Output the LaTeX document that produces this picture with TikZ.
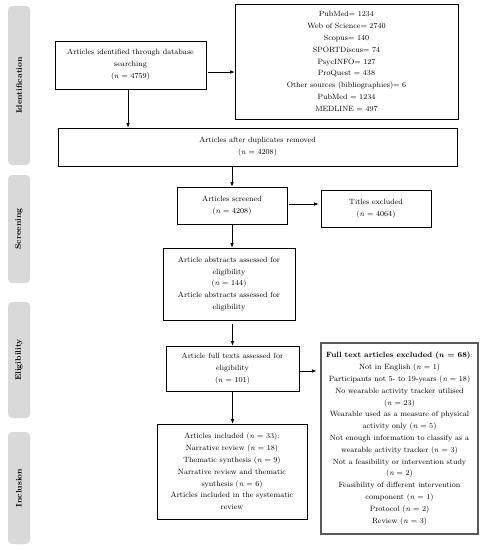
\documentclass[tikz,border=0pt]{standalone}
\usetikzlibrary{arrows.meta,calc}
\definecolor{barfill}{RGB}{217,217,217}
\definecolor{exclline}{RGB}{90,90,90}
\begin{document}
\begin{tikzpicture}[x=1pt,y=-1pt,
  every node/.style={font=\fontsize{7.6}{11.8}\selectfont},
  box/.style={draw, line width=0.6pt, align=center, inner sep=0pt, minimum width=#1},
  bar/.style={fill=barfill, rounded corners=4pt, inner sep=0pt, rotate=90,
    font=\fontsize{8}{10}\selectfont\bfseries, minimum height=22pt, minimum width=#1},
  arr/.style={-{Latex[length=4.5pt,width=3.5pt]}, line width=0.6pt}]
\useasboundingbox (0,0) rectangle (484,550);
% side bars
\node[bar=159] (bid) at (19,85.5) {Identification};
\node[bar=108] (bsc) at (19,229) {Screening};
\node[bar=116] (bel) at (19,360) {Eligibility};
\node[bar=112] (bin) at (19,488) {Inclusion};
% boxes
\node[box=151, minimum height=48] (ident) at (130.5,65) {Articles identified through database\\searching\\(\textit{n} = 4759)};
\node[box=223, minimum height=115] (src) at (346.5,61.5) {PubMed= 1234\\Web of Science= 2740\\Scopus= 140\\SPORTDiscus= 74\\PsycINFO= 127\\ProQuest = 438\\Other sources (bibliographies)= 6\\PubMed = 1234\\MEDLINE = 497};
\node[box=399, minimum height=38] (dup) at (257.5,147) {Articles after duplicates removed\\(\textit{n} = 4208)};
\node[box=110, minimum height=37] (scr) at (232,205.5) {Articles screened\\(\textit{n} = 4208)};
\node[box=110, minimum height=37] (title) at (376,208.5) {Titles excluded\\(\textit{n} = 4064)};
\node[box=132, minimum height=72] (abs) at (229,284) {Article abstracts assessed for\\eligibility\\(\textit{n} = 144)\\Article abstracts assessed for\\eligibility};
\node[box=133, minimum height=45] (full) at (232.5,368.5) {Article full texts assessed for\\eligibility\\(\textit{n} = 101)};
\node[box=157, minimum height=191, draw=exclline, line width=1.1pt] (excl) at (399.5,438.5) {\textbf{Full text articles excluded (\textit{n} = 68)}:\\Not in English (\textit{n} = 1)\\Participants not 5- to 19-years (\textit{n} = 18)\\No wearable activity tracker utilised\\(\textit{n} = 23)\\Wearable used as a measure of physical\\activity only (\textit{n} = 5)\\Not enough information to classify as a\\wearable activity tracker (\textit{n} = 3)\\Not a feasibility or intervention study\\(\textit{n} = 2)\\Feasibility of different intervention\\component (\textit{n} = 1)\\Protocol (\textit{n} = 2)\\Review (\textit{n} = 3)};
\node[box=150, minimum height=95] (incl) at (232,471.5) {Articles included (\textit{n} = 33):\\Narrative review (\textit{n} = 18)\\Thematic synthesis (\textit{n} = 9)\\Narrative review and thematic\\synthesis (\textit{n} = 6)\\Articles included in the systematic\\review};
% connectors
\draw[arr, shorten <=2pt] ([yshift=-7]ident.east) -- ([yshift=-7]ident.east -| src.west);
\draw[arr] ([xshift=-2.5]ident.south) -- ([xshift=-2.5]ident.south |- dup.north);
\draw[arr] (scr.north |- dup.south) -- (scr.north);
\draw[arr, shorten <=2pt, shorten >=2pt] ([yshift=1.5]scr.east) -- ([yshift=1.5]scr.east -| title.west);
\draw[arr] (scr.south) -- (scr.south |- abs.north);
\draw[arr, shorten <=4pt] (full.north |- abs.south) -- (full.north);
\draw[arr, shorten <=1pt, shorten >=4pt] ([yshift=-2.5]full.east) -- ([yshift=-2.5]full.east -| excl.west);
\draw[arr] (full.south) -- (full.south |- incl.north);
\end{tikzpicture}
\end{document}
